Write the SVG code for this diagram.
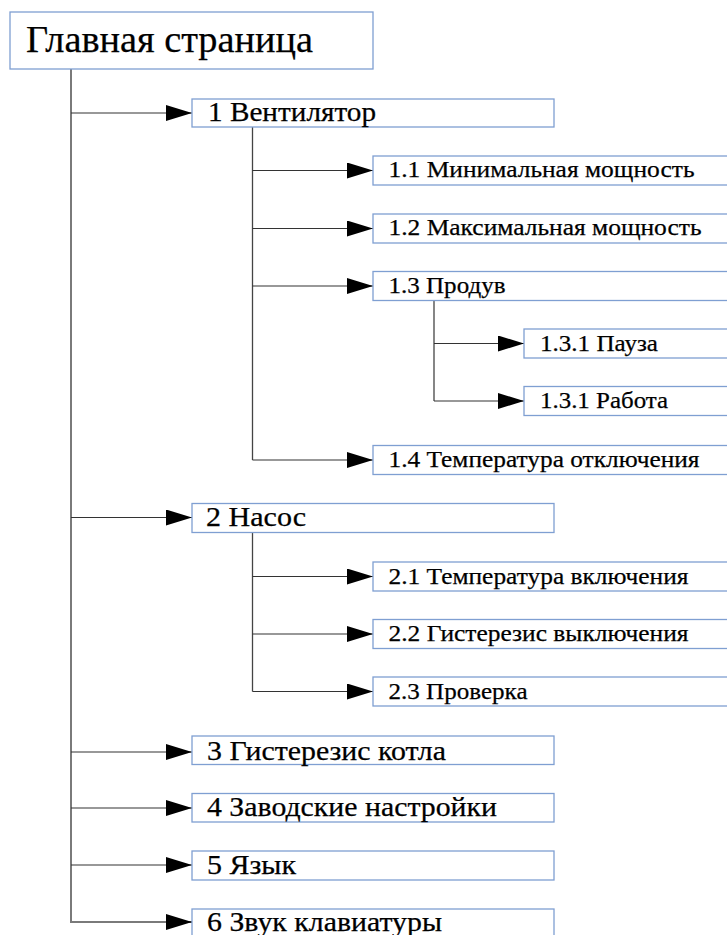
<svg xmlns="http://www.w3.org/2000/svg" width="727" height="935" viewBox="0 0 727 935">
<style>
.box{fill:#fff;stroke:#7f9fd2;stroke-width:1.3}
text{font-family:'Liberation Serif','Times New Roman',serif;fill:#000;stroke:#000;stroke-width:0.25}
.l0{font-size:37px}
.l1{font-size:28px}
.l2{font-size:24px}
.trunk{stroke:#7a7a7a;stroke-width:2;fill:none}
.sub{stroke:#444;stroke-width:1.3;fill:none}
.br{stroke:#333;stroke-width:1.2;fill:none;marker-end:url(#ah)}
</style>
<defs>
<marker id="ah" markerUnits="userSpaceOnUse" markerWidth="26" markerHeight="16" refX="26" refY="8" orient="auto" viewBox="0 0 26 16">
<path d="M0,0 L26,8 L0,16 z" fill="#000"/>
</marker>
</defs>
<rect width="727" height="935" fill="#fff"/>
<g id="connectors">
<path class="trunk" d="M71,69 V922 H192"/>
<path class="br" d="M71,113 H192"/>
<path class="br" d="M71,517.5 H192"/>
<path class="br" d="M71,752 H192"/>
<path class="br" d="M71,808 H192"/>
<path class="br" d="M71,865 H192"/>
<path class="br" d="M180,922 H192"/>
<path class="sub" d="M252.5,127 V460"/>
<path class="br" d="M252.5,170.5 H373"/>
<path class="br" d="M252.5,228.5 H373"/>
<path class="br" d="M252.5,286 H373"/>
<path class="br" d="M252.5,460 H373"/>
<path class="sub" d="M434,301 V401"/>
<path class="br" d="M434,343.5 H524"/>
<path class="br" d="M434,401 H524"/>
<path class="sub" d="M252.5,532.5 V691.5"/>
<path class="br" d="M252.5,576.5 H373"/>
<path class="br" d="M252.5,634 H373"/>
<path class="br" d="M252.5,691.5 H373"/>
</g>
<g id="n0"><rect class="box" x="10" y="12" width="363" height="57"/><text class="l0" x="26" y="51.5" textLength="287" lengthAdjust="spacingAndGlyphs">Главная страница</text></g>
<g id="n1"><rect class="box" x="192" y="99" width="362" height="28"/><text class="l1" x="208" y="121" textLength="168" lengthAdjust="spacingAndGlyphs">1 Вентилятор</text></g>
<g id="n1_1"><rect class="box" x="373" y="156" width="370" height="29"/><text class="l2" x="388.5" y="177" textLength="306" lengthAdjust="spacingAndGlyphs">1.1 Минимальная мощность</text></g>
<g id="n1_2"><rect class="box" x="373" y="214" width="370" height="29"/><text class="l2" x="388.5" y="235" textLength="313" lengthAdjust="spacingAndGlyphs">1.2 Максимальная мощность</text></g>
<g id="n1_3"><rect class="box" x="373" y="271.5" width="370" height="29"/><text class="l2" x="388.5" y="292.5" textLength="117" lengthAdjust="spacingAndGlyphs">1.3 Продув</text></g>
<g id="n1_3_1"><rect class="box" x="524" y="329" width="220" height="29"/><text class="l2" x="540" y="350.5" textLength="118" lengthAdjust="spacingAndGlyphs">1.3.1 Пауза</text></g>
<g id="n1_3_2"><rect class="box" x="524" y="386.5" width="220" height="29"/><text class="l2" x="540" y="408" textLength="128" lengthAdjust="spacingAndGlyphs">1.3.1 Работа</text></g>
<g id="n1_4"><rect class="box" x="373" y="445.5" width="370" height="29"/><text class="l2" x="388.5" y="467" textLength="311" lengthAdjust="spacingAndGlyphs">1.4 Температура отключения</text></g>
<g id="n2"><rect class="box" x="192" y="503.5" width="362" height="29"/><text class="l1" x="206" y="526" textLength="100" lengthAdjust="spacingAndGlyphs">2 Насос</text></g>
<g id="n2_1"><rect class="box" x="373" y="562" width="370" height="29"/><text class="l2" x="388.5" y="583.5" textLength="300" lengthAdjust="spacingAndGlyphs">2.1 Температура включения</text></g>
<g id="n2_2"><rect class="box" x="373" y="619.5" width="370" height="29"/><text class="l2" x="388.5" y="641" textLength="300" lengthAdjust="spacingAndGlyphs">2.2 Гистерезис выключения</text></g>
<g id="n2_3"><rect class="box" x="373" y="677" width="370" height="29"/><text class="l2" x="388.5" y="698.5" textLength="139" lengthAdjust="spacingAndGlyphs">2.3 Проверка</text></g>
<g id="n3"><rect class="box" x="192" y="736" width="362" height="28.5"/><text class="l1" x="207" y="759.5" textLength="239" lengthAdjust="spacingAndGlyphs">3 Гистерезис котла</text></g>
<g id="n4"><rect class="box" x="192" y="793.5" width="362" height="28.5"/><text class="l1" x="207" y="816" textLength="290" lengthAdjust="spacingAndGlyphs">4 Заводские настройки</text></g>
<g id="n5"><rect class="box" x="192" y="851" width="362" height="29"/><text class="l1" x="207" y="873.5" textLength="89" lengthAdjust="spacingAndGlyphs">5 Язык</text></g>
<g id="n6"><rect class="box" x="192" y="909" width="362" height="40"/><text class="l1" x="207" y="931" textLength="235" lengthAdjust="spacingAndGlyphs">6 Звук клавиатуры</text></g>
</svg>
